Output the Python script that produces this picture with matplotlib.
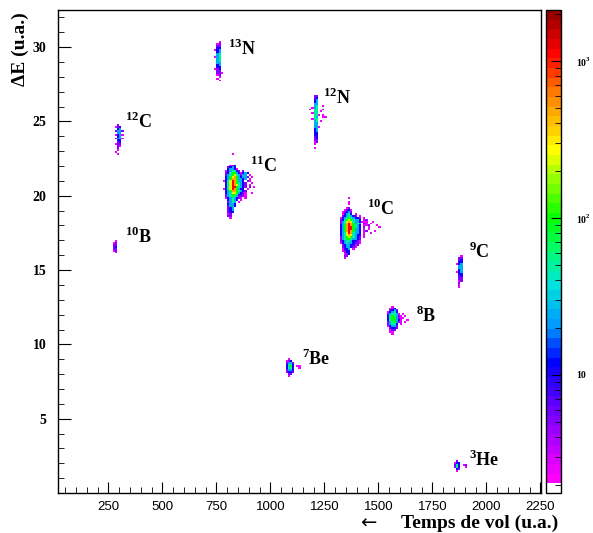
import numpy as np
import matplotlib
matplotlib.use('Agg')
import matplotlib.pyplot as plt
from matplotlib.colors import ListedColormap, LinearSegmentedColormap, LogNorm
from matplotlib.ticker import MultipleLocator, FixedLocator, FixedFormatter, LogLocator

# Histogramme 2D  dE / temps de vol
x_bin = 10.0
y_bin = 0.13

level_counts = {'1': 2.6, '2': 5, '3': 10, '4': 25, '5': 50,
                '6': 100, '7': 250, '8': 500, '9': 1100}

# chaque tache : coin haut-gauche (temps de vol, dE) puis lignes du haut vers le bas
n13_origin = (740, 30.28)
n13_grid = [
    "  1 ",
    " 12 ",
    " 22 ",
    " 33 ",
    "134 ",
    " 34 ",
    " 45 ",
    " 45 ",
    "145 ",
    " 45 ",
    " 45 ",
    " 44 ",
    " 34 ",
    " 33 ",
    "123 ",
    " 22 ",
    " 221",
    " 12 ",
    "  1 ",
    " 1  ",
    "  1 ",
]

n12_origin = (1170, 26.65)
n12_grid = [
    "   22    ",
    "   23    ",
    "   34    ",
    "   34    ",
    "   44    ",
    "   45  1 ",
    "  145    ",
    " 1 55  1 ",
    "   55 1  ",
    "  155    ",
    "   551 1 ",
    "   54  11",
    "  155    ",
    "   45 1  ",
    "   44    ",
    "   44    ",
    "   441   ",
    "   34    ",
    "   34    ",
    "   33    ",
    "   33    ",
    "   23    ",
    "   23    ",
    "   22    ",
    "   12    ",
    "   1     ",
    "         ",
    "   1     ",
]

c12_origin = (240, 24.7)
c12_grid = [
    "     2  ",
    "    123 ",
    "     34 ",
    "    2442",
    "     44 ",
    "    1341",
    "     34 ",
    "    2441",
    "     33 ",
    "     23 ",
    "    122 ",
    "     21 ",
    "     2  ",
    "     1  ",
    "    1   ",
    "     1  ",
]

c11_origin = (780, 22.75)
c11_grid = [
    "    1          ",
    "               ",
    "               ",
    "               ",
    "               ",
    "               ",
    "   123         ",
    "  2343         ",
    "  34431        ",
    " 1345532 2     ",
    " 23566431343   ",
    " 2456754244 1  ",
    " 34678643442 1 ",
    " 3468864434 1  ",
    "1357986443 21  ",
    " 3579865432  1 ",
    " 3579875432 1  ",
    " 3579965432 2 1",
    "1357986433 1   ",
    " 3468865432    ",
    " 3457764321  1 ",
    " 2456653321    ",
    " 2456542221    ",
    " 13454321 1    ",
    "  34543 1      ",
    "  2454 1       ",
    "  3443         ",
    "  2443         ",
    "  234          ",
    "  234          ",
    "  233          ",
    "  12           ",
    "  22           ",
    "   1           ",
]

c10_origin = (1320, 19.73)
c10_grid = [
    "    1               ",
    "                    ",
    "    1               ",
    "    1               ",
    "                    ",
    "   12               ",
    "  1231              ",
    " 12342              ",
    " 13453 1            ",
    " 2345432 1          ",
    "1345654332 1        ",
    "2356765443 12       ",
    "2457875443111  1    ",
    "2458986454 21 1     ",
    "3468986543 112   1  ",
    "3468996543 2 1    1 ",
    "3468996443 1 1      ",
    "3468986443 12   1   ",
    "3457985443 1  1     ",
    "3457875433 1        ",
    "2456765432 1        ",
    "2456654432          ",
    "2345543321          ",
    "1345443221          ",
    " 23443312           ",
    " 2344321            ",
    " 1334 1             ",
    " 1233               ",
    "  233               ",
    "  123               ",
    "  22                ",
    "  1                 ",
]

b10_origin = (230, 16.9)
b10_grid = [
    "     1",
    "    12",
    "    22",
    "    23",
    "    22",
    "    12",
    "     1",
]

c9_origin = (1860, 15.9)
c9_grid = [
    "  1",
    " 22",
    " 23",
    " 33",
    "134",
    " 44",
    " 44",
    " 34",
    "134",
    " 33",
    " 23",
    " 22",
    " 22",
    " 12",
    " 2 ",
    " 1 ",
    " 1 ",
]

b8_origin = (1530, 12.47)
b8_grid = [
    "   1       ",
    "  123      ",
    "  2342     ",
    " 13453     ",
    " 245541 1  ",
    " 3565421 1 ",
    " 35664211  ",
    " 3566431  1",
    " 2456421 1 ",
    " 24553 1   ",
    " 13442     ",
    "  2332     ",
    "  122      ",
    "  11       ",
    "   1       ",
]

be7_origin = (1060, 8.98)
be7_grid = [
    "  1      ",
    " 123     ",
    " 2442    ",
    " 3553    ",
    " 3563 11 ",
    " 3553  1 ",
    " 2443    ",
    " 2332    ",
    "  22     ",
    "  1      ",
]

he3_origin = (1850, 2.06)
he3_grid = [
    " 2    ",
    "133   ",
    "253 12",
    "253  1",
    " 32   ",
    " 1    ",
]

# etiquettes des noyaux
label_mass = ['13', '12', '12', '11', '10', '10', '9', '8', '7', '3']
label_elem = ['N', 'N', 'C', 'C', 'C', 'B', 'C', 'B', 'Be', 'He']
label_x = [804, 1244, 327, 906, 1448, 327, 1920, 1674, 1147, 1920]
label_y = [29.48, 26.18, 24.57, 21.61, 18.72, 16.84, 15.83, 11.53, 8.64, 1.79]

blobs = [(n13_origin, n13_grid), (n12_origin, n12_grid), (c12_origin, c12_grid),
         (c11_origin, c11_grid), (c10_origin, c10_grid), (b10_origin, b10_grid),
         (c9_origin, c9_grid), (b8_origin, b8_grid), (be7_origin, be7_grid),
         (he3_origin, he3_grid)]

x_edges = np.arange(0, 2270 + x_bin, x_bin)
y_edges = np.arange(0, 32.5 + y_bin, y_bin)
H = np.zeros((len(y_edges) - 1, len(x_edges) - 1))
for (x0, ytop), grid in blobs:
    ix0 = int(round(x0 / x_bin))
    iy0 = int(round(ytop / y_bin))
    for r, row in enumerate(grid):
        for c, ch in enumerate(row):
            if ch in level_counts:
                H[iy0 - r, ix0 + c] += level_counts[ch]
H = np.ma.masked_equal(H, 0)

# palette facon ROOT
anchors = [(0.0, (1, 0, 1)), (0.13, (0.5, 0, 1)), (0.25, (0, 0, 1)),
           (0.33, (0, 0.6, 1)), (0.42, (0, 0.9, 0.85)), (0.5, (0, 1, 0.4)),
           (0.56, (0, 1, 0)), (0.71, (1, 1, 0)), (0.83, (1, 0.5, 0)),
           (0.92, (1, 0, 0)), (1.0, (0.6, 0, 0))]
base = LinearSegmentedColormap.from_list('root', anchors)
colors = [(1, 1, 1)] + [base(v) for v in np.linspace(0, 1, 49)]
cmap = ListedColormap(colors)
norm = LogNorm(vmin=1.77, vmax=2113)

plt.rcParams['mathtext.fontset'] = 'custom'
plt.rcParams['mathtext.rm'] = 'Liberation Serif:bold'
plt.rcParams['mathtext.bf'] = 'Liberation Serif:bold'

fig = plt.figure(figsize=(5.93, 5.33), dpi=100)
ax = fig.add_axes([57.7 / 593, 1 - 493 / 533, (541 - 57.7) / 593, 483 / 533])
cax = fig.add_axes([546 / 593, 1 - 493 / 533, 15 / 593, 483 / 533])

mesh = ax.pcolormesh(x_edges, y_edges, H, cmap=cmap, norm=norm)
ax.set_xlim(15, 2253)
ax.set_ylim(0, 32.5)

ax.xaxis.set_major_locator(MultipleLocator(250))
ax.xaxis.set_minor_locator(MultipleLocator(50))
ax.yaxis.set_major_locator(FixedLocator([5, 10, 15, 20, 25, 30]))
ax.yaxis.set_minor_locator(MultipleLocator(1))
ax.tick_params(which='both', direction='in', top=False, right=False)
ax.tick_params(axis='x', which='major', length=8, pad=6, labelsize=9.5)
ax.tick_params(axis='x', which='minor', length=4)
ax.tick_params(axis='y', which='major', length=9, pad=8, labelsize=10)
ax.tick_params(axis='y', which='minor', length=4)
for lab in ax.get_xticklabels():
    lab.set_fontfamily('Liberation Sans')
for lab in ax.get_yticklabels():
    lab.set_fontfamily('Liberation Serif')
    lab.set_fontweight('bold')
for s in ax.spines.values():
    s.set_linewidth(1.0)

for m, e, x, y in zip(label_mass, label_elem, label_x, label_y):
    ax.text(x, y, r'$^{\mathbf{%s}}\mathbf{%s}$' % (m, e), fontsize=13,
            ha='left', va='baseline')

cb = fig.colorbar(mesh, cax=cax)
cb.outline.set_linewidth(1.0)
cax.yaxis.set_major_locator(FixedLocator([10, 100, 1000]))
cax.yaxis.set_major_formatter(FixedFormatter(['10', r'$10^2$', r'$10^3$']))
cax.yaxis.set_minor_locator(LogLocator(subs=np.arange(2, 10)))
cax.yaxis.set_minor_formatter(FixedFormatter([]))
cax.tick_params(which='both', direction='in', right=True, left=False)
cax.tick_params(which='major', length=7, pad=11, labelsize=7)
cax.tick_params(which='minor', length=4)
for lab in cax.get_yticklabels():
    lab.set_fontfamily('Liberation Serif')
    lab.set_fontweight('bold')

fig.text(20 / 593, 1 - 12 / 533, 'ΔE (u.a.)', rotation=90, ha='center', va='top',
         fontsize=14, fontweight='bold', family='Liberation Serif')
fig.text(558 / 593, 1 - 528 / 533, 'Temps de vol (u.a.)', ha='right', va='baseline',
         fontsize=14, fontweight='bold', family='Liberation Serif')
fig.text(368 / 593, 1 - 523 / 533, '←', ha='center', va='center',
         fontsize=14, family='DejaVu Sans')

fig.savefig('out.png', dpi=100)
